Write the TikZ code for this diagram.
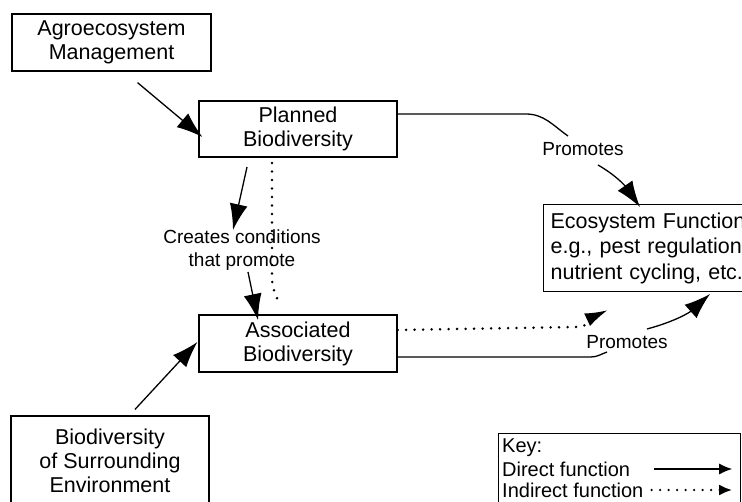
\documentclass[tikz,border=0pt]{standalone}
\usepackage{fontspec}
\setmainfont{Liberation Sans}
\usetikzlibrary{arrows.meta,calc}
\tikzset{
  box/.style={draw, line width=1.2pt, align=center, inner sep=0pt,
    font=\fontsize{21.5}{24}\selectfont},
  lbl/.style={align=center, inner sep=1pt, font=\fontsize{19}{23}\selectfont},
  keytext/.style={anchor=west, inner sep=2pt, font=\fontsize{20}{21}\selectfont},
  direct/.style={line width=1.3pt, -{Latex[length=26pt,width=18pt]}},
  indirect/.style={line width=2.8pt, line cap=round, dash pattern=on 0pt off 8.5pt,
    -{Latex[length=23pt,width=14pt]}},
  keyarrow/.style={line width=1.3pt, -{Latex[length=13pt,width=11pt]}}
}
\begin{document}
\begin{tikzpicture}[x=1pt,y=1pt]
            \useasboundingbox (0,0) rectangle (742,-502);
            \clip (0,0) rectangle (742,-502);
            %Nodes
            \node[box, minimum width=199, minimum height=57] at (111.5,-42.5) (agro) {Agroecosystem\\Management};
            \node[box, minimum width=198, minimum height=56] at (298,-129) (planned) {Planned\\Biodiversity};
            \node[box, minimum width=198, minimum height=57] at (298,-343.5) (assoc) {Associated\\Biodiversity};
            \node[box, minimum width=198, minimum height=90] at (110,-461) (surr) {Biodiversity\\of Surrounding\\Environment};
            \node[box, anchor=north west, align=left, text width=240pt, inner xsep=7pt, inner ysep=7pt,
                minimum height=87, font=\fontsize{21.5}{25.5}\selectfont] at (543,-204) (eco)
                {Ecosystem Function\\e.g., pest regulation,\\nutrient cycling, etc.};
            \node[lbl] at (242,-250) (creates) {Creates conditions\\that promote};
            \node[lbl] at (583,-149) (promA) {Promotes};
            \node[lbl] at (627,-342) (promB) {Promotes};

            %Key
            \node[draw, line width=1.2pt, anchor=north west, minimum width=242, minimum height=80] at (498,-433) (keybox) {};
            \node[keytext] at (500,-448) (keyT) {Key:};
            \node[keytext] at (500,-469) (keyD) {Direct function};
            \node[keytext] at (500,-490) (keyI) {Indirect function};

            %Lines
            \draw[direct] ([shift={(26,-11)}]agro.south) -- ([shift={(4,-8)}]planned.west);
            \draw[direct] ([shift={(25,6)}]surr.north) -- ([shift={(-1,1.5)}]assoc.west);
            \draw[direct] ([shift={(-51,-38)}]planned.center) -- ([shift={(-9,20)}]creates.center);
            \draw[direct] ([shift={(6,-22)}]creates.center) -- ([shift={(-40,23.5)}]assoc.center);
            \draw[indirect, -] ([shift={(-26,-34)}]planned.center) -- ++(0,-115)
                to[out=-90,in=112] ([shift={(-18,38.5)}]assoc.center);
            \draw[line width=1.3pt] ([yshift=15pt]planned.east) -- ++(128,0)
                to[out=0,in=145] ([shift={(-15,13)}]promA.center);
            \draw[direct] ([shift={(15,-16)}]promA.center) to[out=-30,in=125] (640,-207);
            \draw[line width=1.3pt] ([yshift=-13.5pt]assoc.east) -- ++(193,0)
                to[out=0,in=200] ([shift={(-20,-10)}]promB.center);
            \draw[direct] ([shift={(20,13)}]promB.center) to[out=15,in=222] (710,-294);
            \draw[indirect] ([yshift=13.5pt]assoc.east) -- ++(178,3)
                to[out=0,in=205] (608,-310);
            \draw[keyarrow] ([xshift=22pt]keyD.east) -- ($(keyD.east -| keybox.east)+(-9,0)$);
            \draw[indirect, keyarrow, line width=2.6pt] ([xshift=6pt]keyI.east) -- ($(keyI.east -| keybox.east)+(-9,0)$);
\end{tikzpicture}
\end{document}
